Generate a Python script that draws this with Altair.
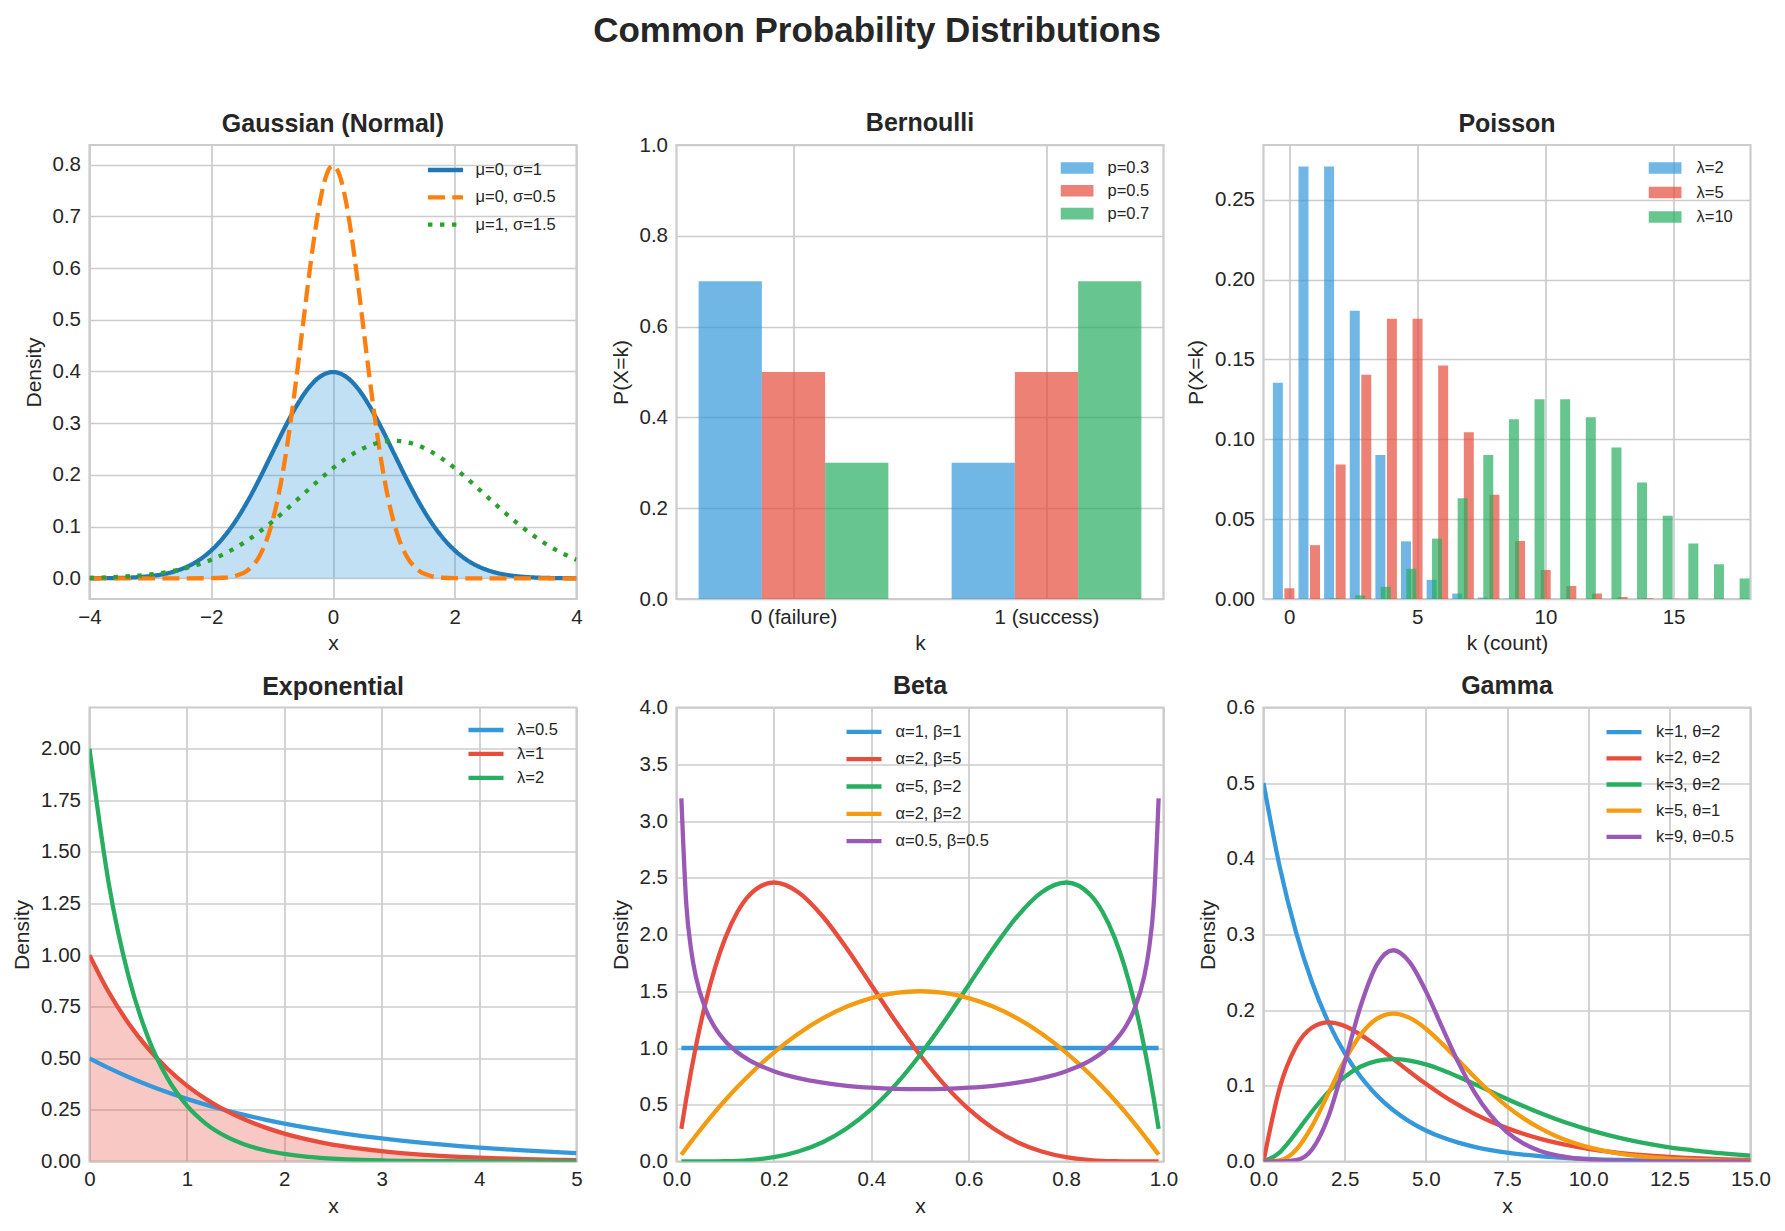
import altair as alt
import pandas as pd

FONT = "Liberation Sans"
INK = "#262626"
GRID = "#cccccc"
W, H = 487, 454
LW = 4.3

SUPTITLE = "Common Probability Distributions"

# ---------------- Gaussian ----------------
GAUSS_X = [-4.0, -3.8, -3.6, -3.4, -3.2, -3.0, -2.8, -2.6, -2.4, -2.2, -2.0, -1.8, -1.6, -1.4,
           -1.2, -1.0, -0.8, -0.6, -0.4, -0.2, 0.0, 0.2, 0.4, 0.6, 0.8, 1.0, 1.2, 1.4, 1.6, 1.8,
           2.0, 2.2, 2.4, 2.6, 2.8, 3.0, 3.2, 3.4, 3.6, 3.8, 4.0]
GAUSS_STD = [0.0001, 0.0003, 0.0006, 0.0012, 0.0024, 0.0044, 0.0079, 0.0136, 0.0224, 0.0355,
             0.0540, 0.0790, 0.1109, 0.1497, 0.1942, 0.2420, 0.2897, 0.3332, 0.3683, 0.3910,
             0.3989, 0.3910, 0.3683, 0.3332, 0.2897, 0.2420, 0.1942, 0.1497, 0.1109, 0.0790,
             0.0540, 0.0355, 0.0224, 0.0136, 0.0079, 0.0044, 0.0024, 0.0012, 0.0006, 0.0003, 0.0001]
GAUSS_WIDE = [0.0010, 0.0016, 0.0024, 0.0036, 0.0053, 0.0076, 0.0108, 0.0149, 0.0204, 0.0273,
              0.0360, 0.0466, 0.0592, 0.0739, 0.0907, 0.1093, 0.1295, 0.1506, 0.1721, 0.1931,
              0.2130, 0.2307, 0.2455, 0.2567, 0.2636, 0.2660, 0.2636, 0.2567, 0.2455, 0.2307,
              0.2130, 0.1931, 0.1721, 0.1506, 0.1295, 0.1093, 0.0907, 0.0739, 0.0592, 0.0466, 0.0360]
GAUSS_NARROW_X = [-4.0, -3.0, -2.5, -2.0, -1.8, -1.6, -1.4, -1.2, -1.1, -1.0, -0.9, -0.8, -0.7,
                  -0.6, -0.5, -0.4, -0.3, -0.2, -0.1, 0.0, 0.1, 0.2, 0.3, 0.4, 0.5, 0.6, 0.7,
                  0.8, 0.9, 1.0, 1.1, 1.2, 1.4, 1.6, 1.8, 2.0, 2.5, 3.0, 4.0]
GAUSS_NARROW = [0.0, 0.0, 0.0, 0.0003, 0.0012, 0.0048, 0.0158, 0.0448, 0.0709, 0.1080, 0.1579,
                0.2218, 0.2995, 0.3884, 0.4839, 0.5794, 0.6664, 0.7365, 0.7821, 0.7979, 0.7821,
                0.7365, 0.6664, 0.5794, 0.4839, 0.3884, 0.2995, 0.2218, 0.1579, 0.1080, 0.0709,
                0.0448, 0.0158, 0.0048, 0.0012, 0.0003, 0.0, 0.0, 0.0]
GAUSS_SERIES = ["μ=0, σ=1", "μ=0, σ=0.5", "μ=1, σ=1.5"]
GAUSS_COLORS = ["#1f77b4", "#ff7f0e", "#2ca02c"]

# ---------------- Bernoulli ----------------
BERN_K = [0, 1]
BERN_LABELS = ["0 (failure)", "1 (success)"]
BERN_SERIES = ["p=0.3", "p=0.5", "p=0.7"]
BERN_VALUES = {"p=0.3": [0.7, 0.3], "p=0.5": [0.5, 0.5], "p=0.7": [0.3, 0.7]}

# ---------------- Poisson ----------------
POIS_K = [0, 1, 2, 3, 4, 5, 6, 7, 8, 9, 10, 11, 12, 13, 14, 15, 16, 17]
POIS_SERIES = ["λ=2", "λ=5", "λ=10"]
POIS_VALUES = {
    "λ=2": [0.1353, 0.2707, 0.2707, 0.1804, 0.0902, 0.0361, 0.0120, 0.0034, 0.0009, 0.0002,
            0.0, 0.0, 0.0, 0.0, 0.0, 0.0, 0.0, 0.0],
    "λ=5": [0.0067, 0.0337, 0.0842, 0.1404, 0.1755, 0.1755, 0.1462, 0.1044, 0.0653, 0.0363,
            0.0181, 0.0082, 0.0034, 0.0013, 0.0005, 0.0002, 0.0, 0.0],
    "λ=10": [0.0, 0.0005, 0.0023, 0.0076, 0.0189, 0.0378, 0.0631, 0.0901, 0.1126, 0.1251,
             0.1251, 0.1137, 0.0948, 0.0729, 0.0521, 0.0347, 0.0217, 0.0128],
}

# ---------------- Exponential ----------------
EXP_X = [0.0, 0.2, 0.4, 0.6, 0.8, 1.0, 1.2, 1.4, 1.6, 1.8, 2.0, 2.2, 2.4, 2.6, 2.8, 3.0, 3.2,
         3.4, 3.6, 3.8, 4.0, 4.2, 4.4, 4.6, 4.8, 5.0]
EXP_SERIES = ["λ=0.5", "λ=1", "λ=2"]
EXP_VALUES = {
    "λ=0.5": [0.5000, 0.4524, 0.4094, 0.3704, 0.3352, 0.3033, 0.2744, 0.2483, 0.2247, 0.2033,
              0.1839, 0.1664, 0.1506, 0.1363, 0.1233, 0.1116, 0.1009, 0.0913, 0.0826, 0.0748,
              0.0677, 0.0612, 0.0554, 0.0501, 0.0454, 0.0410],
    "λ=1": [1.0, 0.8187, 0.6703, 0.5488, 0.4493, 0.3679, 0.3012, 0.2466, 0.2019, 0.1653,
            0.1353, 0.1108, 0.0907, 0.0743, 0.0608, 0.0498, 0.0408, 0.0334, 0.0273, 0.0224,
            0.0183, 0.0150, 0.0123, 0.0101, 0.0082, 0.0067],
    "λ=2": [2.0, 1.3406, 0.8987, 0.6024, 0.4038, 0.2707, 0.1814, 0.1216, 0.0815, 0.0546,
            0.0366, 0.0245, 0.0165, 0.0110, 0.0074, 0.0050, 0.0033, 0.0022, 0.0015, 0.0010,
            0.0007, 0.0004, 0.0003, 0.0002, 0.0001, 0.0001],
}

# ---------------- Beta ----------------
BETA_X = [0.01, 0.02, 0.03, 0.04, 0.06, 0.08, 0.10, 0.125, 0.15, 0.20, 0.25, 0.30, 0.35, 0.40,
          0.45, 0.50, 0.55, 0.60, 0.65, 0.70, 0.75, 0.80, 0.85, 0.875, 0.90, 0.92, 0.94, 0.96,
          0.97, 0.98, 0.99]
BETA_FLAT_X = [0.01, 0.99]
BETA_FLAT = [1.0, 1.0]
BETA_25 = [0.288, 0.553, 0.797, 1.019, 1.405, 1.719, 1.968, 2.198, 2.349, 2.458, 2.373, 2.161,
           1.874, 1.555, 1.235, 0.938, 0.677, 0.461, 0.293, 0.170, 0.088, 0.038, 0.013, 0.006,
           0.003, 0.001, 0.0, 0.0, 0.0, 0.0, 0.0]
BETA_52 = [0.0, 0.0, 0.0, 0.0, 0.0, 0.001, 0.003, 0.006, 0.013, 0.038, 0.088, 0.170, 0.293,
           0.461, 0.677, 0.938, 1.235, 1.555, 1.874, 2.161, 2.373, 2.458, 2.349, 2.198, 1.968,
           1.719, 1.405, 1.019, 0.797, 0.553, 0.288]
BETA_22 = [0.059, 0.118, 0.175, 0.230, 0.338, 0.442, 0.540, 0.656, 0.765, 0.960, 1.125, 1.260,
           1.365, 1.440, 1.485, 1.500, 1.485, 1.440, 1.365, 1.260, 1.125, 0.960, 0.765, 0.656,
           0.540, 0.442, 0.338, 0.230, 0.175, 0.118, 0.059]
BETA_HALF = [3.199, 2.274, 1.866, 1.624, 1.340, 1.173, 1.061, 0.963, 0.891, 0.796, 0.735, 0.695,
             0.667, 0.650, 0.640, 0.637, 0.640, 0.650, 0.667, 0.695, 0.735, 0.796, 0.891, 0.963,
             1.061, 1.173, 1.340, 1.624, 1.866, 2.274, 3.199]
BETA_SERIES = ["α=1, β=1", "α=2, β=5", "α=5, β=2", "α=2, β=2", "α=0.5, β=0.5"]

# ---------------- Gamma ----------------
GAMMA_X = [0.0, 0.5, 1.0, 1.5, 2.0, 2.5, 3.0, 3.5, 4.0, 4.5, 5.0, 5.5, 6.0, 6.5, 7.0, 7.5, 8.0,
           8.5, 9.0, 9.5, 10.0, 10.5, 11.0, 11.5, 12.0, 12.5, 13.0, 13.5, 14.0, 14.5, 15.0]
GAMMA_SERIES = ["k=1, θ=2", "k=2, θ=2", "k=3, θ=2", "k=5, θ=1", "k=9, θ=0.5"]
GAMMA_VALUES = {
    "k=1, θ=2": [0.5000, 0.3894, 0.3033, 0.2362, 0.1839, 0.1433, 0.1116, 0.0869, 0.0677, 0.0527,
                 0.0410, 0.0320, 0.0249, 0.0194, 0.0151, 0.0118, 0.0092, 0.0071, 0.0056, 0.0043,
                 0.0034, 0.0026, 0.0020, 0.0016, 0.0012, 0.0010, 0.0008, 0.0006, 0.0005, 0.0004,
                 0.0003],
    "k=2, θ=2": [0.0, 0.0974, 0.1516, 0.1771, 0.1839, 0.1791, 0.1673, 0.1521, 0.1353, 0.1186,
                 0.1026, 0.0879, 0.0747, 0.0630, 0.0528, 0.0441, 0.0366, 0.0303, 0.0250, 0.0205,
                 0.0168, 0.0138, 0.0112, 0.0092, 0.0074, 0.0060, 0.0049, 0.0040, 0.0032, 0.0026,
                 0.0021],
    "k=3, θ=2": [0.0, 0.0122, 0.0379, 0.0664, 0.0920, 0.1119, 0.1255, 0.1330, 0.1353, 0.1334,
                 0.1283, 0.1209, 0.1120, 0.1024, 0.0925, 0.0827, 0.0733, 0.0644, 0.0562, 0.0488,
                 0.0421, 0.0362, 0.0309, 0.0263, 0.0223, 0.0188, 0.0159, 0.0133, 0.0112, 0.0093,
                 0.0078],
    "k=5, θ=1": [0.0, 0.0016, 0.0153, 0.0471, 0.0902, 0.1336, 0.1680, 0.1888, 0.1954, 0.1898,
                 0.1755, 0.1558, 0.1339, 0.1118, 0.0912, 0.0729, 0.0573, 0.0443, 0.0337, 0.0254,
                 0.0189, 0.0140, 0.0102, 0.0074, 0.0053, 0.0038, 0.0027, 0.0019, 0.0013, 0.0009,
                 0.0007],
    "k=9, θ=0.5": [0.0, 0.0, 0.0017, 0.0162, 0.0595, 0.1306, 0.2065, 0.2608, 0.2792, 0.2635,
                   0.2252, 0.1776, 0.1310, 0.0915, 0.0609, 0.0389, 0.0240, 0.0143, 0.0083, 0.0047,
                   0.0026, 0.0014, 0.0008, 0.0004, 0.0002, 0.0001, 0.0001, 0.0, 0.0, 0.0, 0.0],
}

FLAT = ["#3498db", "#e74c3c", "#27ae60", "#f39c12", "#9b59b6"]
RECT = "M-1,-0.35L1,-0.35L1,0.35L-1,0.35Z"


def long_df(series):
    rows = []
    for name, xs, ys in series:
        for xv, yv in zip(xs, ys):
            rows.append({"series": name, "x": xv, "y": yv})
    return pd.DataFrame(rows)


def line_legend(lx, ly, clip, rowpad, loff):
    return alt.Legend(title=None, orient="none", legendX=lx, legendY=ly, symbolType="stroke",
                      symbolSize=1225, symbolStrokeWidth=LW, clipHeight=clip, rowPadding=rowpad,
                      labelOffset=loff, labelFontSize=16.5, labelColor=INK, labelFont=FONT,
                      padding=0)


def bar_legend(lx, ly, clip, rowpad, loff):
    return alt.Legend(title=None, orient="none", legendX=lx, legendY=ly, symbolType=RECT,
                      symbolSize=1089, symbolStrokeWidth=0, symbolOpacity=0.7, clipHeight=clip,
                      rowPadding=rowpad, labelOffset=loff, labelFontSize=16.5, labelColor=INK,
                      labelFont=FONT, padding=0)


def xax(title, values, fmt=None, expr=None):
    kw = dict(title=title, values=values, labelFlush=False, labelOverlap=False)
    if fmt:
        kw["format"] = fmt
    if expr:
        kw["labelExpr"] = expr
    return alt.Axis(**kw)


def yax(title, values, fmt):
    return alt.Axis(title=title, values=values, format=fmt, labelOverlap=False)


def ptitle(text, offset=8):
    return alt.TitleParams(text=text, fontSize=25, fontWeight="bold", color=INK, font=FONT,
                           offset=offset, anchor="middle")


# ---------- panel 1: Gaussian ----------
g_df = long_df([(GAUSS_SERIES[0], GAUSS_X, GAUSS_STD),
                (GAUSS_SERIES[1], GAUSS_NARROW_X, GAUSS_NARROW),
                (GAUSS_SERIES[2], GAUSS_X, GAUSS_WIDE)])
g_fill = pd.DataFrame({"x": GAUSS_X, "y": GAUSS_STD})
gx = alt.Scale(domain=[-4, 4], nice=False, zero=False)
gy = alt.Scale(domain=[-0.0399, 0.8378], nice=False, zero=False)
g_x_axis = xax("x", [-4, -2, 0, 2, 4], "d")
g_y_axis = yax("Density", [0, 0.1, 0.2, 0.3, 0.4, 0.5, 0.6, 0.7, 0.8], ".1f")
g_leg = line_legend(336, 17, 16, 10.3, 10)
g_area = alt.Chart(g_fill).mark_area(color="#3498db", opacity=0.3, interpolate="monotone",
                                     clip=True).encode(
    x=alt.X("x:Q", scale=gx, axis=g_x_axis),
    y=alt.Y("y:Q", scale=gy, axis=g_y_axis),
    y2=alt.datum(0),
)
g_lines = alt.Chart(g_df).mark_line(strokeWidth=LW, interpolate="monotone", clip=True,
                                    strokeCap="butt").encode(
    x=alt.X("x:Q", scale=gx, axis=g_x_axis),
    y=alt.Y("y:Q", scale=gy, axis=g_y_axis),
    color=alt.Color("series:N", scale=alt.Scale(domain=GAUSS_SERIES, range=GAUSS_COLORS),
                    legend=g_leg),
    strokeDash=alt.StrokeDash("series:N",
                              scale=alt.Scale(domain=GAUSS_SERIES,
                                              range=[[1, 0], [17, 7.3], [4.4, 7.6]]),
                              legend=g_leg),
)
gauss = alt.layer(g_area, g_lines).properties(width=W, height=H,
                                              title=ptitle("Gaussian (Normal)"))

# ---------- panel 2: Bernoulli ----------
rows = []
for i, s in enumerate(BERN_SERIES):
    for k, v in zip(BERN_K, BERN_VALUES[s]):
        x0 = k + (i - 1) * 0.25 - 0.125
        rows.append({"series": s, "x0": x0, "x1": x0 + 0.25, "p": v})
b_df = pd.DataFrame(rows)
b_expr = "datum.value == 0 ? '%s' : '%s'" % (BERN_LABELS[0], BERN_LABELS[1])
bern = alt.Chart(b_df).mark_bar(opacity=0.7, clip=True).encode(
    x=alt.X("x0:Q", scale=alt.Scale(domain=[-0.4625, 1.4625], nice=False, zero=False),
            axis=xax("k", BERN_K, expr=b_expr)),
    x2="x1:Q",
    y=alt.Y("p:Q", scale=alt.Scale(domain=[0, 1], nice=False),
            axis=yax("P(X=k)", [0, 0.2, 0.4, 0.6, 0.8, 1.0], ".1f")),
    y2=alt.datum(0),
    color=alt.Color("series:N", scale=alt.Scale(domain=BERN_SERIES, range=FLAT[:3]),
                    legend=bar_legend(384, 16, 14, 5.8, 14)),
).properties(width=W, height=H, title=ptitle("Bernoulli", -1))

# ---------- panel 3: Poisson ----------
P_OFFSETS = [-0.44, 0.01, 0.77]
P_WIDTH = 0.39
rows = []
for i, s in enumerate(POIS_SERIES):
    for k, v in zip(POIS_K, POIS_VALUES[s]):
        x0 = k + P_OFFSETS[i] - P_WIDTH / 2
        rows.append({"series": s, "x0": x0, "x1": x0 + P_WIDTH, "p": v})
p_df = pd.DataFrame(rows)
poisson = alt.Chart(p_df).mark_bar(opacity=0.7, clip=True).encode(
    x=alt.X("x0:Q", scale=alt.Scale(domain=[-1, 18], nice=False, zero=False),
            axis=xax("k (count)", [0, 5, 10, 15], "d")),
    x2="x1:Q",
    y=alt.Y("p:Q", scale=alt.Scale(domain=[0, 0.2842], nice=False),
            axis=yax("P(X=k)", [0, 0.05, 0.10, 0.15, 0.20, 0.25], ".2f")),
    y2=alt.datum(0),
    color=alt.Color("series:N", scale=alt.Scale(domain=POIS_SERIES, range=FLAT[:3]),
                    legend=bar_legend(385, 16, 14, 7.5, 15)),
).properties(width=W, height=H, title=ptitle("Poisson"))

# ---------- panel 4: Exponential ----------
e_df = long_df([(s, EXP_X, EXP_VALUES[s]) for s in EXP_SERIES])
e_fill = pd.DataFrame({"x": EXP_X, "y": EXP_VALUES["λ=1"]})
ex = alt.Scale(domain=[0, 5], nice=False, zero=False)
ey = alt.Scale(domain=[0, 2.2], nice=False)
e_x_axis = xax("x", [0, 1, 2, 3, 4, 5], "d")
e_y_axis = yax("Density", [0, 0.25, 0.5, 0.75, 1.0, 1.25, 1.5, 1.75, 2.0], ".2f")
e_area = alt.Chart(e_fill).mark_area(color="#e74c3c", opacity=0.3, interpolate="monotone",
                                     clip=True).encode(
    x=alt.X("x:Q", scale=ex, axis=e_x_axis),
    y=alt.Y("y:Q", scale=ey, axis=e_y_axis),
    y2=alt.datum(0),
)
e_lines = alt.Chart(e_df).mark_line(strokeWidth=LW, interpolate="monotone", clip=True).encode(
    x=alt.X("x:Q", scale=ex, axis=e_x_axis),
    y=alt.Y("y:Q", scale=ey, axis=e_y_axis),
    color=alt.Color("series:N", scale=alt.Scale(domain=EXP_SERIES, range=FLAT[:3]),
                    legend=line_legend(376.5, 14.5, 16, 6.9, 11)),
)
expo = alt.layer(e_area, e_lines).properties(width=W, height=H, title=ptitle("Exponential"))

# ---------- panel 5: Beta ----------
bt_df = long_df([(BETA_SERIES[0], BETA_FLAT_X, BETA_FLAT),
                 (BETA_SERIES[1], BETA_X, BETA_25),
                 (BETA_SERIES[2], BETA_X, BETA_52),
                 (BETA_SERIES[3], BETA_X, BETA_22),
                 (BETA_SERIES[4], BETA_X, BETA_HALF)])
beta = alt.Chart(bt_df).mark_line(strokeWidth=LW, interpolate="monotone", clip=True).encode(
    x=alt.X("x:Q", scale=alt.Scale(domain=[0, 1], nice=False, zero=False),
            axis=xax("x", [0, 0.2, 0.4, 0.6, 0.8, 1.0], ".1f")),
    y=alt.Y("y:Q", scale=alt.Scale(domain=[0, 4], nice=False),
            axis=yax("Density", [0, 0.5, 1.0, 1.5, 2.0, 2.5, 3.0, 3.5, 4.0], ".1f")),
    color=alt.Color("series:N", scale=alt.Scale(domain=BETA_SERIES, range=FLAT),
                    legend=line_legend(167.5, 16.4, 16, 10.3, 11.5)),
).properties(width=W, height=H, title=ptitle("Beta", -1))

# ---------- panel 6: Gamma ----------
gm_df = long_df([(s, GAMMA_X, GAMMA_VALUES[s]) for s in GAMMA_SERIES])
gamma = alt.Chart(gm_df).mark_line(strokeWidth=LW, interpolate="monotone", clip=True).encode(
    x=alt.X("x:Q", scale=alt.Scale(domain=[0, 15], nice=False, zero=False),
            axis=xax("x", [0, 2.5, 5, 7.5, 10, 12.5, 15], ".1f")),
    y=alt.Y("y:Q", scale=alt.Scale(domain=[0, 0.6], nice=False),
            axis=yax("Density", [0, 0.1, 0.2, 0.3, 0.4, 0.5, 0.6], ".1f")),
    color=alt.Color("series:N", scale=alt.Scale(domain=GAMMA_SERIES, range=FLAT),
                    legend=line_legend(340.5, 16.6, 16, 9.2, 12)),
).properties(width=W, height=H, title=ptitle("Gamma", -1))


def indep(c):
    return c.resolve_scale(color="independent", strokeDash="independent").resolve_legend(
        color="independent", strokeDash="independent")


row1 = indep(alt.hconcat(gauss, bern, poisson, spacing=100, bounds="flush"))
row2 = indep(alt.hconcat(expo, beta, gamma, spacing=100, bounds="flush"))

chart = indep(alt.vconcat(
    row1, row2, spacing=16.5,
    title=alt.TitleParams(text=SUPTITLE, fontSize=35, fontWeight="bold", color=INK, font=FONT,
                          anchor="middle", offset=61, dx=-14),
)).properties(
    padding={"left": 10.5, "top": 13, "right": 5, "bottom": 5},
    background="white",
).configure(
    font=FONT,
).configure_view(
    stroke=GRID, strokeWidth=2.2,
).configure_axis(
    grid=True, gridColor=GRID, gridWidth=1.7, gridOpacity=1, domain=False, ticks=False,
    labelFontSize=20.5, labelColor=INK, labelFont=FONT,
    titleFontSize=21, titleColor=INK, titleFont=FONT, titleFontWeight="normal",
).configure_axisX(
    labelPadding=8, titlePadding=5,
).configure_axisY(
    labelPadding=9, titlePadding=8,
)

chart.save("out.html", embed_options={"renderer": "svg", "actions": False})
